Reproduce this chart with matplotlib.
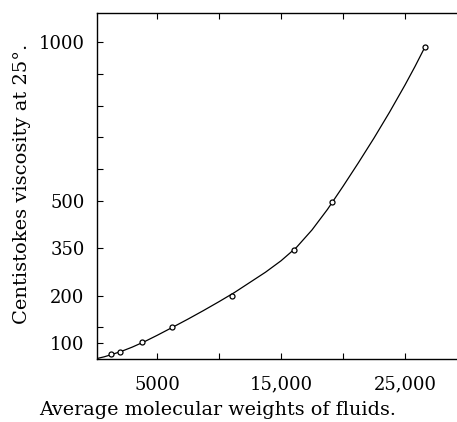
import matplotlib
matplotlib.use('Agg')
import matplotlib.pyplot as plt

# 測定点 (平均分子量, 粘度 cSt at 25°)
mol_weights = [1290, 2020, 3790, 6210, 11050, 16050, 19110, 26610]
viscosity = [16, 22, 54, 101, 199, 345, 494, 984]

# 図から読み取った曲線
curve_x = [0, 750, 1500, 2250, 3000, 4000, 5000, 6250, 7500, 8750,
           10000, 11250, 12500, 13750, 15000, 16250, 17500, 18750,
           20000, 21250, 22500, 23750, 25000, 25800, 26610]
curve_y = [0, 7, 16, 26, 37.5, 55, 74.5, 100, 126, 153,
           181, 210, 242, 274, 310, 352.5, 407.5, 472.5,
           545, 620, 697.5, 779, 865, 923, 985]

# 目盛り
x_major = [5000, 15000, 25000]
x_major_labels = ['5000', '15,000', '25,000']
x_minor = [10000, 20000]
y_major = [52, 200, 350, 500, 1000]
y_major_labels = ['100', '200', '350', '500', '1000']
y_minor = [101, 600, 700, 800, 900]


def main():
    plt.rcParams['font.family'] = ['DejaVu Serif']
    fig = plt.figure(figsize=(4.57, 4.22), dpi=100)
    ax = fig.add_axes([0.2123, 0.1493, 0.7877, 0.8199])

    ax.plot(curve_x, curve_y, color='black', lw=0.9)
    ax.plot(mol_weights, viscosity, 'o', ms=3.6, mfc='white', mec='black', mew=0.9)

    ax.set_xlim(160, 29190)
    ax.set_ylim(0, 1092)

    ax.spines['right'].set_visible(False)
    for s in ['left', 'top', 'bottom']:
        ax.spines[s].set_linewidth(1.0)

    ax.set_xticks(x_major)
    ax.set_xticklabels(x_major_labels, fontsize=13)
    ax.set_xticks(x_minor, minor=True)
    ax.set_yticks(y_major)
    ax.set_yticklabels(y_major_labels, fontsize=13)
    ax.set_yticks(y_minor, minor=True)

    ax.tick_params(axis='x', which='both', direction='in', top=True, bottom=True,
                   length=4, width=0.8, pad=12)
    ax.tick_params(axis='y', which='both', direction='in', left=True, right=False,
                   length=4, width=0.8, pad=9)

    fig.text(0.476, 0.028, 'Average molecular weights of fluids.', ha='center',
             va='center', fontsize=13.8)
    fig.text(0.048, 0.564, 'Centistokes viscosity at 25°.', ha='center',
             va='center', rotation=90, fontsize=14)

    fig.savefig('out.png', dpi=100)


if __name__ == "__main__":
    main()
